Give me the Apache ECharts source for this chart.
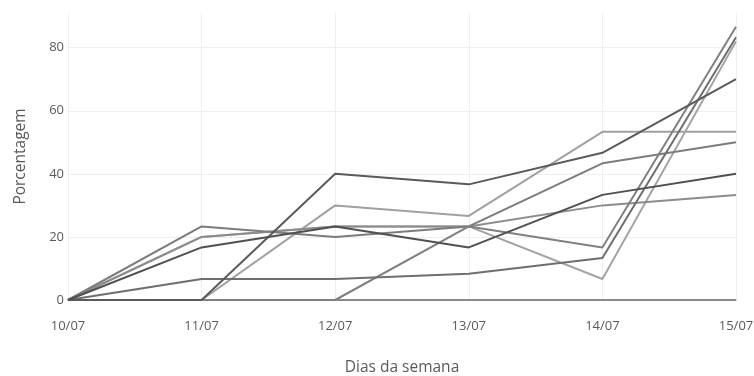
<!DOCTYPE html>
<html>
<head>
<meta charset="utf-8">
<script src="https://cdn.jsdelivr.net/npm/echarts@6/dist/echarts.min.js"></script>
<style>html,body{margin:0;padding:0;background:#fff;}#c{width:754px;height:376px;}</style>
</head>
<body>
<div id="c"></div>
<script>
const days = ['10/07', '11/07', '12/07', '13/07', '14/07', '15/07'];
const yTicks = [0, 20, 40, 60, 80];
const s1 = [0, 0, 40, 36.67, 46.67, 70];
const s2 = [0, 0, 30, 26.67, 53.33, 53.33];
const s3 = [0, 16.67, 23.33, 16.67, 33.33, 40];
const s4 = [0, 6.67, 6.67, 8.33, 13.33, 83.33];
const s5 = [0, 23.33, 20, 23.33, 43.33, 50];
const s6 = [0, 20, 23.33, 23.33, 30, 33.33];
const s7 = [0, 0, 0, 23.33, 16.67, 86.67];
const s8 = [0, 20, 23.33, 23.33, 6.67, 82];
const s9 = [0, 0, 0, 0, 0, 0];

const seriesList = [
  {d: s9, c: '#8a8a8a'},
  {d: s2, c: '#a0a0a0'},
  {d: s8, c: '#a3a3a3'},
  {d: s6, c: '#8c8c8c'},
  {d: s5, c: '#7c7c7c'},
  {d: s7, c: '#808080'},
  {d: s4, c: '#6e6e6e'},
  {d: s1, c: '#5a5a5a'},
  {d: s3, c: '#505050'}
];

const chart = echarts.init(document.getElementById('c'));
chart.setOption({
  animation: false,
  textStyle: {fontFamily: 'Open Sans'},
  grid: {left: 68, right: 18, top: 13, bottom: 76, outerBoundsMode: 'none', containLabel: false},
  xAxis: {
    type: 'category',
    data: days,
    boundaryGap: false,
    axisTick: {show: false},
    axisLine: {show: true, lineStyle: {color: '#777', width: 1}},
    axisLabel: {color: '#5a5a5a', fontSize: 13, margin: 20, fontFamily: 'Open Sans'},
    splitLine: {show: true, lineStyle: {color: '#eeeeee', width: 1}},
    name: 'Dias da semana',
    nameLocation: 'middle',
    nameGap: 60,
    nameTextStyle: {color: '#5a5a5a', fontSize: 15.5, fontFamily: 'Open Sans'}
  },
  yAxis: {
    type: 'value',
    min: 0,
    max: 91,
    interval: 20,
    axisLine: {show: false},
    axisTick: {show: false},
    axisLabel: {
      color: '#5a5a5a', fontSize: 13, margin: 4, fontFamily: 'Open Sans', showMaxLabel: false,
      formatter: v => (yTicks.indexOf(v) >= 0 ? String(v) : '')
    },
    splitLine: {show: true, lineStyle: {color: ['#eeeeee', '#eeeeee', '#eeeeee', '#eeeeee', '#eeeeee', 'rgba(0,0,0,0)'], width: 1}},
    name: 'Porcentagem',
    nameLocation: 'middle',
    nameGap: 39,
    nameTextStyle: {color: '#5a5a5a', fontSize: 15.5, fontFamily: 'Open Sans'}
  },
  series: seriesList.map(s => ({
    type: 'line',
    data: s.d,
    symbol: 'none',
    lineStyle: {color: s.c, width: 2},
    itemStyle: {color: s.c}
  }))
});
</script>
</body>
</html>
